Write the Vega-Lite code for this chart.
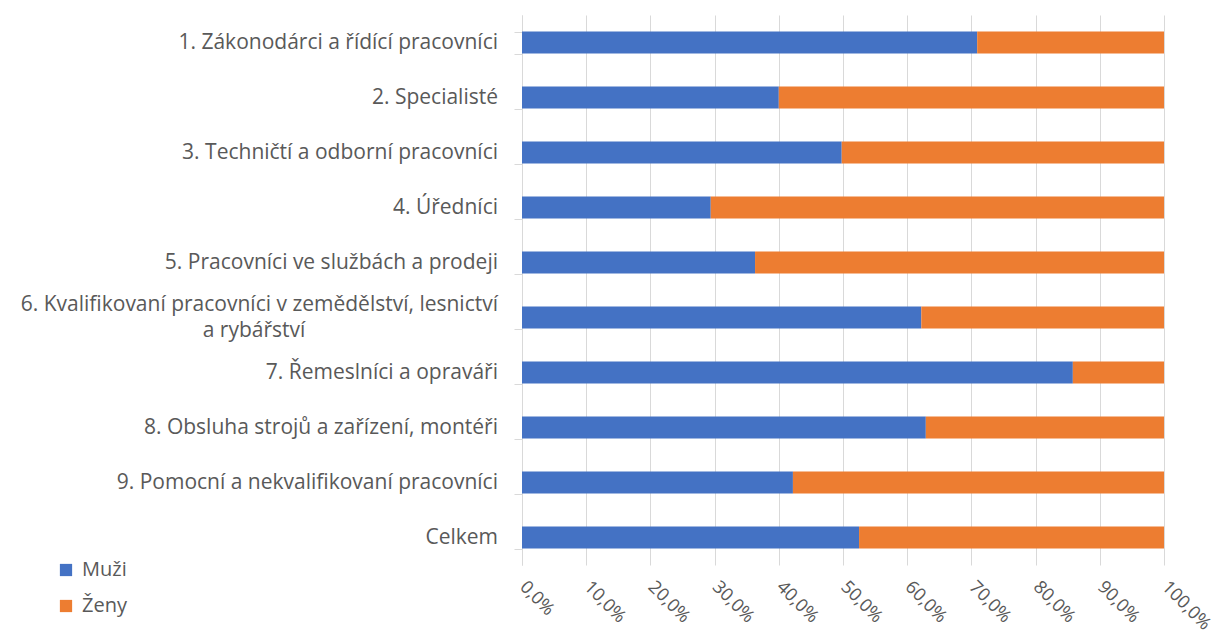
{
  "$schema": "https://vega.github.io/schema/vega-lite/v6.json",
  "width": 642,
  "height": 550,
  "autosize": {"type": "none"},
  "padding": {"left": 522, "top": 15, "right": 62, "bottom": 69},
  "background": "white",
  "datasets": {
    "bars": [
      {"cat": "1", "pohlavi": "Muži", "podil": 70.9},
      {"cat": "1", "pohlavi": "Ženy", "podil": 29.1},
      {"cat": "2", "pohlavi": "Muži", "podil": 40.0},
      {"cat": "2", "pohlavi": "Ženy", "podil": 60.0},
      {"cat": "3", "pohlavi": "Muži", "podil": 49.8},
      {"cat": "3", "pohlavi": "Ženy", "podil": 50.2},
      {"cat": "4", "pohlavi": "Muži", "podil": 29.4},
      {"cat": "4", "pohlavi": "Ženy", "podil": 70.6},
      {"cat": "5", "pohlavi": "Muži", "podil": 36.3},
      {"cat": "5", "pohlavi": "Ženy", "podil": 63.7},
      {"cat": "6", "pohlavi": "Muži", "podil": 62.2},
      {"cat": "6", "pohlavi": "Ženy", "podil": 37.8},
      {"cat": "7", "pohlavi": "Muži", "podil": 85.8},
      {"cat": "7", "pohlavi": "Ženy", "podil": 14.2},
      {"cat": "8", "pohlavi": "Muži", "podil": 62.9},
      {"cat": "8", "pohlavi": "Ženy", "podil": 37.1},
      {"cat": "9", "pohlavi": "Muži", "podil": 42.2},
      {"cat": "9", "pohlavi": "Ženy", "podil": 57.8},
      {"cat": "C", "pohlavi": "Muži", "podil": 52.5},
      {"cat": "C", "pohlavi": "Ženy", "podil": 47.5}
    ],
    "labels": [
      {"cat": "1", "typ": "a", "text": "1. Zákonodárci a řídící pracovníci"},
      {"cat": "2", "typ": "a", "text": "2. Specialisté"},
      {"cat": "3", "typ": "a", "text": "3. Techničtí a odborní pracovníci"},
      {"cat": "4", "typ": "a", "text": "4. Úředníci"},
      {"cat": "5", "typ": "a", "text": "5. Pracovníci ve službách a prodeji"},
      {"cat": "6", "typ": "b1", "text": "6. Kvalifikovaní pracovníci v zemědělství, lesnictví"},
      {"cat": "6", "typ": "b2", "text": "a rybářství"},
      {"cat": "7", "typ": "a", "text": "7. Řemeslníci a opraváři"},
      {"cat": "8", "typ": "a", "text": "8. Obsluha strojů a zařízení, montéři"},
      {"cat": "9", "typ": "a", "text": "9. Pomocní a nekvalifikovaní pracovníci"},
      {"cat": "C", "typ": "a", "text": "Celkem"}
    ]
  },
  "layer": [
    {
      "data": {"name": "bars"},
      "mark": {"type": "bar"},
      "encoding": {
        "y": {
          "field": "cat",
          "type": "nominal",
          "title": null,
          "scale": {"domain": ["1", "2", "3", "4", "5", "6", "7", "8", "9", "C"], "paddingInner": 0.6, "paddingOuter": 0.3},
          "axis": {
            "labels": false,
            "tickSize": 8,
            "tickBand": "extent",
            "tickColor": "#d9d9d9",
            "domainColor": "#d9d9d9",
            "grid": false
          }
        },
        "x": {
          "field": "podil",
          "type": "quantitative",
          "stack": "normalize",
          "title": null,
          "scale": {"domain": [0, 1], "nice": false},
          "axis": {
            "values": [0, 0.1, 0.2, 0.3, 0.4, 0.5, 0.6, 0.7, 0.8, 0.9, 1.0],
            "labelExpr": "replace(format(datum.value, '.1%'), '.', ',')",
            "labelAngle": 45,
            "labelAlign": "left",
            "labelBaseline": "middle",
            "labelFontSize": 18,
            "labelColor": "#595959",
            "labelFont": "Open Sans",
            "labelPadding": 19,
            "labelFlush": false,
            "labelOverlap": false,
            "ticks": false,
            "domain": false,
            "grid": true,
            "gridColor": "#d9d9d9"
          }
        },
        "color": {
          "field": "pohlavi",
          "type": "nominal",
          "title": null,
          "scale": {"domain": ["Muži", "Ženy"], "range": ["#4472C4", "#ED7D31"]},
          "legend": {
            "orient": "none",
            "legendX": -466,
            "legendY": 545,
            "direction": "vertical",
            "symbolType": "square",
            "symbolSize": 150,
            "symbolStrokeWidth": 0,
            "labelFontSize": 20,
            "labelColor": "#595959",
            "labelFont": "Open Sans",
            "rowPadding": 16,
            "labelOffset": 6
          }
        },
        "order": {"field": "pohlavi", "sort": "ascending"}
      }
    },
    {
      "data": {"name": "labels"},
      "transform": [{"filter": "datum.typ == 'a'"}],
      "mark": {"type": "text", "align": "right", "baseline": "middle", "dx": -24, "font": "Open Sans", "fontSize": 21, "color": "#595959"},
      "encoding": {
        "y": {"field": "cat", "type": "nominal"},
        "x": {"datum": 0},
        "text": {"field": "text"}
      }
    },
    {
      "data": {"name": "labels"},
      "transform": [{"filter": "datum.typ == 'b1'"}],
      "mark": {"type": "text", "align": "right", "baseline": "middle", "dx": -24, "dy": -13, "font": "Open Sans", "fontSize": 21, "color": "#595959"},
      "encoding": {
        "y": {"field": "cat", "type": "nominal"},
        "x": {"datum": 0},
        "text": {"field": "text"}
      }
    },
    {
      "data": {"name": "labels"},
      "transform": [{"filter": "datum.typ == 'b2'"}],
      "mark": {"type": "text", "align": "center", "baseline": "middle", "dx": -268, "dy": 13, "font": "Open Sans", "fontSize": 21, "color": "#595959"},
      "encoding": {
        "y": {"field": "cat", "type": "nominal"},
        "x": {"datum": 0},
        "text": {"field": "text"}
      }
    }
  ],
  "config": {"view": {"stroke": null}}
}
